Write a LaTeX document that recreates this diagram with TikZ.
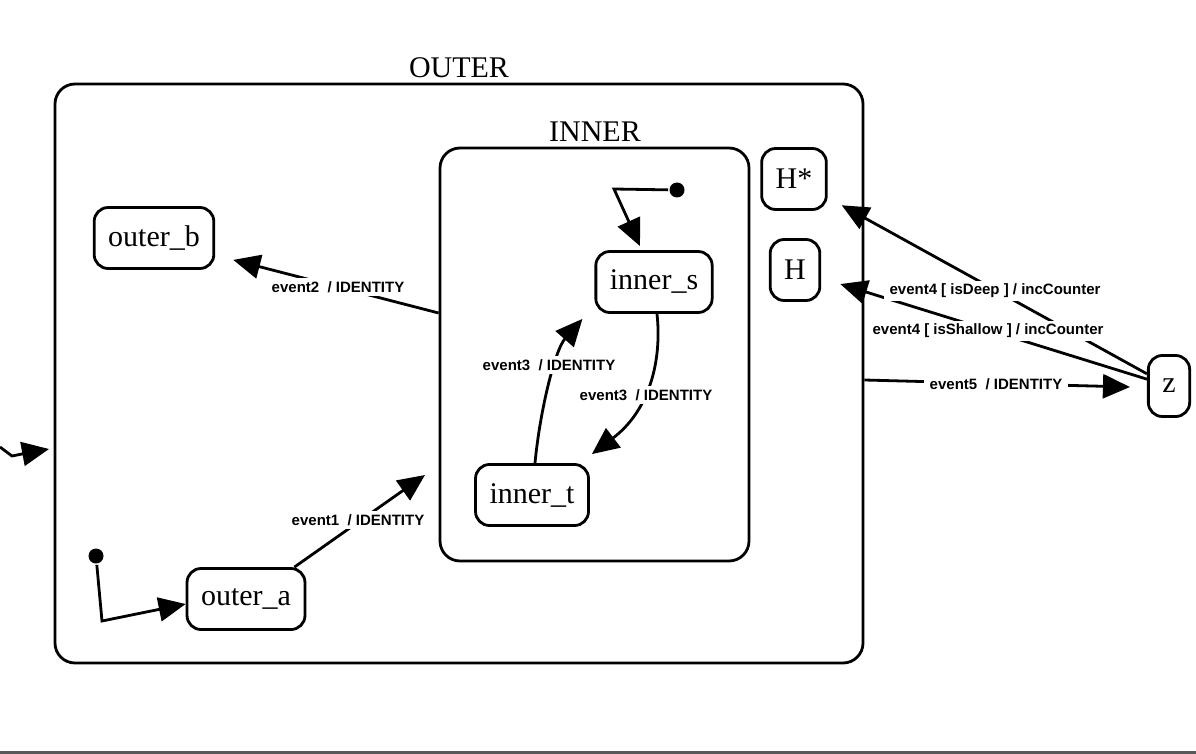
\documentclass[tikz,border=0pt]{standalone}
\usepackage{fontspec}
\setmainfont{Liberation Serif}
\newfontfamily\etikettfont{Liberation Sans}
\usetikzlibrary{arrows.meta,calc}

\begin{document}
\begin{tikzpicture}[
  x=1pt, y=-1pt,
  tillstand/.style={rectangle,draw,rounded corners=14pt,minimum height=61pt,inner xsep=14pt,font=\fontsize{30}{30}\selectfont},
  region/.style={rectangle,draw,rounded corners=20pt},
  rubrik/.style={anchor=base,font=\fontsize{30}{30}\selectfont},
  etikett/.style={fill=white,inner xsep=6pt,inner ysep=3pt,font=\etikettfont\bfseries\fontsize{15}{17}\selectfont},
  prick/.style={circle,fill,inner sep=0pt,minimum size=15pt},
  line width=2.8pt,
  >={Triangle[length=27pt,width=24pt]}
  ]
  \useasboundingbox (0,0) rectangle (1196,754);
  \fill[black!65] (0,751) rectangle (1196,754);

  \node [region,minimum width=808pt,minimum height=579pt] (OUT) at (459,373.5) {};
  \node [rubrik] (OUTL) at (459,78) {OUTER};
  \node [region,minimum width=309pt,minimum height=413pt] (INN) at (594.5,354.5) {};
  \node [rubrik] (INNL) at (595,142) {INNER};

  \node [tillstand] (OB) at (154,238) {outer\_b};
  \node [tillstand] (OA) at (246,599) {outer\_a};
  \node [tillstand] (IS) at (654,282) {inner\_s};
  \node [tillstand] (IT) at (532,495) {inner\_t};
  \node [tillstand] (HD) at (794,179) {H*};
  \node [tillstand] (HS) at (795,270) {H};
  \node [tillstand] (Z) at (1169,386) {z};

  \node [prick] (PA) at (96,556) {};
  \node [prick] (PI) at (677,190) {};
  \coordinate (IN) at (0,447);

  \draw[->] (IN) -- (12,456) -- (22,454) -- (49,449);
  \draw[->] (PA) -- (102,621) -- ($(OA.west)+(0,5)$);
  \draw[->] (PI) -- (614,189) -- ($(IS.north)+(-14,-4)$);

  \draw[->] (INN.west|-0,313) -- ($(OB.south east)+(18,-10)$);
  \draw[->] ($(OA.north east)+(-12,0)$) -- (425,475);
  \draw[->] ($(IT.north)+(3,0)$) .. controls (540,410) and (555,350) .. ($(IS.south west)+(-12,5)$);
  \draw[->] ($(IS.south)+(3,0)$) .. controls (662,360) and (650,410) .. ($(IT.north east)+(2,-9)$);
  \draw[->,shorten >=16pt] (Z) -- (HD);
  \draw[->,shorten >=20pt] (Z) -- (HS);
  \draw[->] (OUT.east|-0,380) -- ($(Z.west)+(-17,1)$);

  % labels on top of the edges
  \node [etikett] (L2) at (338,287) {event2\ \ / IDENTITY};
  \node [etikett] (L1) at (358,520) {event1\ \ / IDENTITY};
  \node [etikett] (L3A) at (549,365) {event3\ \ / IDENTITY};
  \node [etikett] (L3B) at (646,395) {event3\ \ / IDENTITY};
  \node [etikett] (L4D) at (995,291) {event4 [ isDeep ] / incCounter};
  \node [etikett] (L4S) at (988,331) {event4 [ isShallow ] / incCounter};
  \node [etikett] (L5) at (996,384) {event5\ \ / IDENTITY};
\end{tikzpicture}
\end{document}
